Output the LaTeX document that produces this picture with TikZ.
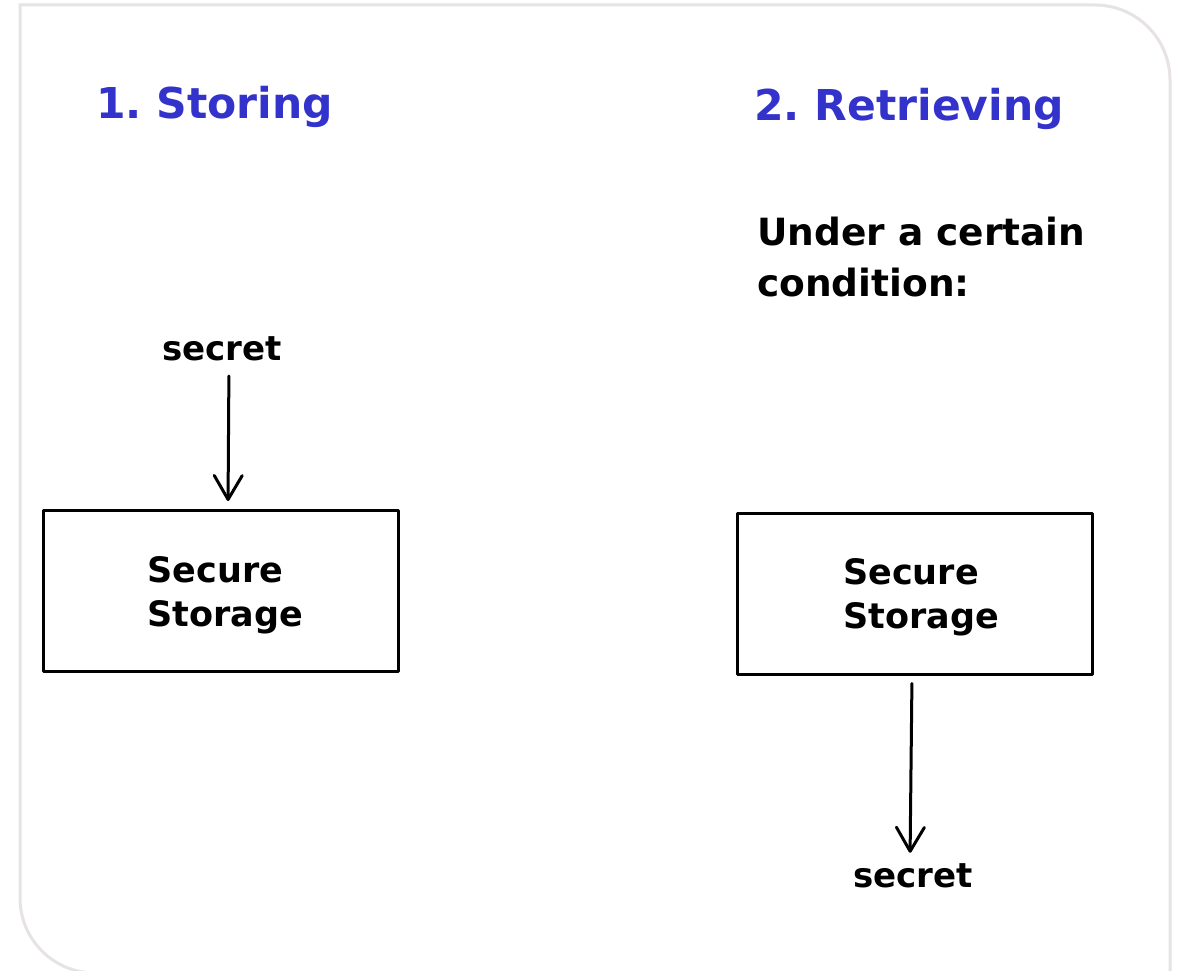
\documentclass[tikz,border=0pt]{standalone}
\usepackage{fontspec}
\setmainfont{DejaVu Sans}
\usetikzlibrary{arrows.meta}
\definecolor{titleblue}{HTML}{3333CC}
\definecolor{panelgray}{HTML}{E6E2E6}
\frenchspacing
\tikzset{
  panel/.style={draw=panelgray, line width=3pt},
  heading/.style={text=titleblue, font=\fontsize{42.5}{50}\selectfont\bfseries, anchor=base west, inner sep=0pt},
  note/.style={font=\fontsize{37.5}{51}\selectfont\bfseries, anchor=base west, align=left, inner sep=0pt},
  item/.style={font=\fontsize{34}{44}\selectfont\bfseries, inner sep=0pt, text height=25pt, text depth=0pt},
  storebox/.style={draw, line width=3pt, line join=round, minimum width=355pt, minimum height=161pt},
  boxtext/.style={align=left, inner sep=0pt, font=\fontsize{35}{44}\selectfont\bfseries},
  flow/.style={line width=3pt, line cap=round, -{Straight Barb[length=24pt, width=28pt, line width=3pt, round]}},
}
\begin{document}
\begin{tikzpicture}[x=1pt, y=-1pt]
  \useasboundingbox (0,0) rectangle (1181,971);
  % outer panel
  \draw[panel] (20,5) -- (1095,5) arc[start angle=-90, end angle=0, radius=75]
    -- (1170,973) -- (95,973) arc[start angle=90, end angle=180, radius=75] -- cycle;

  % storing
  \node[heading] (h1) at (96,119) {1. Storing};
  \node[item, anchor=base] (s1) at (222,360) {secret};
  \node[storebox] (box1) at (220.5,591) {};
  \node[boxtext] (t1) at ([xshift=5pt, yshift=-4pt]box1.center) {Secure\\Storage};
  \draw[flow, shorten <=16pt, shorten >=8pt] ([xshift=7pt]s1.base) -- ([xshift=7.5pt]box1.north);

  % retrieving
  \node[heading] (h2) at (754,121) {2. Retrieving};
  \node[note] (cond) at (757,296) {Under a certain\\condition:};
  \node[storebox] (box2) at (915,593.5) {};
  \node[boxtext] (t2) at ([xshift=6pt, yshift=-4pt]box2.center) {Secure\\Storage};
  \node[item, anchor=base] (s2) at (913,887) {secret};
  \draw[flow, shorten <=8pt, shorten >=9pt] ([xshift=-3pt]box2.south) -- ([xshift=-3pt]s2.north);
\end{tikzpicture}
\end{document}
